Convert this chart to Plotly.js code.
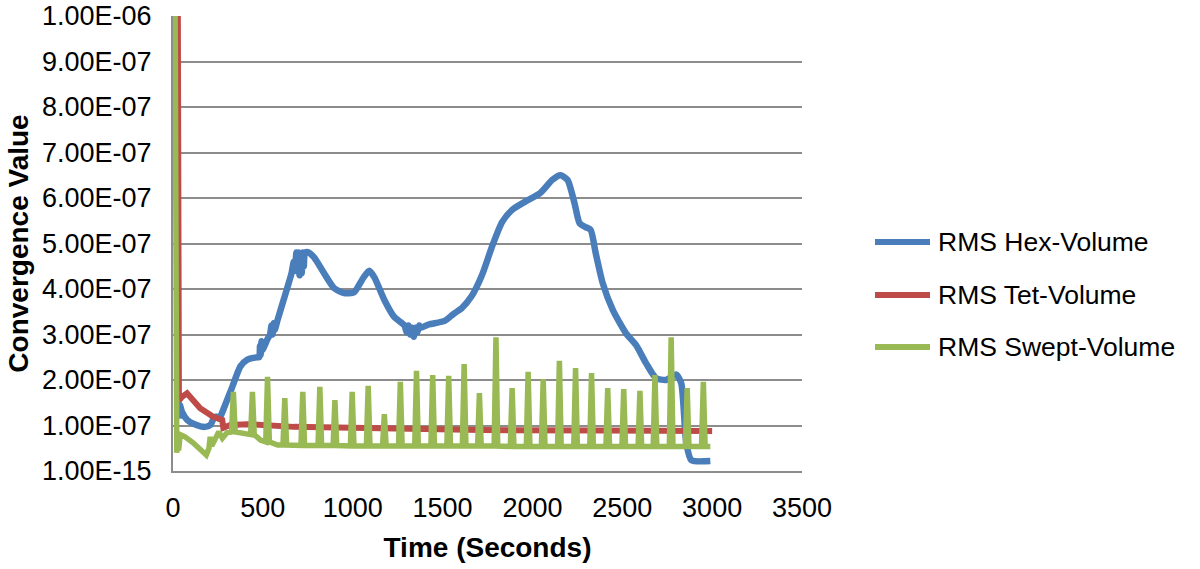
<!DOCTYPE html>
<html>
<head>
<meta charset="utf-8">
<script src="https://cdn.plot.ly/plotly-3.0.1.min.js"></script>
<style>html,body{margin:0;padding:0;background:#fff;}#chart{width:1200px;height:569px;}</style>
</head>
<body>
<div id="chart"></div>
<script>
// Values in units of 1e-7
var UNIT = 1e-7;

var hexTime = [33, 38, 50, 80, 120, 179, 210, 225, 240, 255, 270, 290, 330, 375, 414, 470, 480, 484, 488, 492, 496, 526, 540, 548, 554, 560, 566, 582, 627, 660, 672, 680, 686, 692, 698, 704, 710, 716, 722, 728, 734, 750, 784, 840, 896, 952, 1008, 1058, 1092, 1120, 1176, 1232, 1288, 1300, 1310, 1320, 1330, 1340, 1350, 1360, 1370, 1380, 1422, 1512, 1560, 1607, 1663, 1719, 1775, 1831, 1887, 1960, 2044, 2111, 2156, 2195, 2234, 2262, 2296, 2324, 2352, 2391, 2447, 2520, 2576, 2632, 2688, 2744, 2800, 2828, 2856, 2884, 2990];
var hexValue = [1.15, 1.45, 1.3, 1.12, 1.03, 0.97, 1.02, 1.15, 1.2, 1.15, 1.25, 1.45, 1.85, 2.3, 2.45, 2.5, 2.5, 2.75, 2.55, 2.85, 2.65, 2.9, 3.0, 3.2, 3.0, 3.25, 3.1, 3.32, 3.91, 4.35, 4.6, 4.4, 4.8, 4.45, 4.8, 4.3, 4.75, 4.35, 4.8, 4.5, 4.8, 4.81, 4.7, 4.35, 4.02, 3.91, 3.93, 4.24, 4.4, 4.26, 3.76, 3.38, 3.2, 3.05, 3.2, 3.0, 3.15, 2.95, 3.15, 3.05, 3.2, 3.15, 3.22, 3.3, 3.45, 3.58, 3.85, 4.3, 4.93, 5.47, 5.74, 5.92, 6.11, 6.4, 6.5, 6.4, 5.89, 5.45, 5.36, 5.3, 4.79, 4.13, 3.54, 3.03, 2.77, 2.37, 2.04, 2.0, 2.12, 1.93, 0.62, 0.24, 0.22];

var tetTime = [27, 33, 50, 78, 151, 224, 274, 280, 319, 414, 672, 1200, 1719, 2400, 3000];
var tetValue = [10.0, 1.55, 1.63, 1.71, 1.38, 1.19, 1.12, 0.95, 1.01, 1.03, 0.97, 0.93, 0.90, 0.89, 0.88];

var sweptTime = [12, 14, 17, 21, 25, 31, 40, 67, 112, 165, 185, 200, 207, 215, 235, 255, 275, 300,
  326, 336, 346, 400, 432, 442, 452, 487, 516, 526, 536, 582, 612, 622, 632,
  712, 722, 732, 807, 817, 827, 891, 901, 911, 987, 997, 1007, 1076, 1086, 1096,
  1166, 1176, 1186, 1255, 1265, 1275, 1345, 1355, 1365, 1435, 1445, 1455,
  1524, 1534, 1544, 1610, 1620, 1630, 1695, 1705, 1715, 1787, 1797, 1807,
  1877, 1887, 1897, 1966, 1976, 1986, 2050, 2060, 2070, 2140, 2150, 2160,
  2230, 2240, 2250, 2319, 2329, 2339, 2409, 2419, 2429, 2498, 2508, 2518,
  2588, 2598, 2608, 2672, 2682, 2692, 2762, 2772, 2782, 2851, 2861, 2871,
  2941, 2951, 2961, 2990];
var sweptValue = [10.0, 0.5, 0.9, 0.4, 0.85, 0.45, 0.8, 0.75, 0.62, 0.42, 0.35, 0.5, 0.75, 0.55, 0.7, 0.86, 0.72, 0.84,
  0.86, 1.74, 0.86, 0.84, 0.80, 1.74, 0.80, 0.68, 0.64, 2.07, 0.64, 0.57, 0.57, 1.60, 0.57,
  0.56, 1.74, 0.56, 0.56, 1.85, 0.56, 0.56, 1.56, 0.56, 0.55, 1.74, 0.55, 0.55, 1.87, 0.55,
  0.55, 1.25, 0.55, 0.55, 1.96, 0.55, 0.55, 2.20, 0.55, 0.55, 2.11, 0.55,
  0.55, 2.09, 0.55, 0.55, 2.35, 0.55, 0.55, 1.71, 0.55, 0.55, 2.94, 0.55,
  0.54, 1.82, 0.54, 0.54, 2.18, 0.54, 0.54, 2.02, 0.54, 0.54, 2.42, 0.54,
  0.54, 2.26, 0.54, 0.54, 2.15, 0.54, 0.54, 1.82, 0.54, 0.54, 1.80, 0.54,
  0.54, 1.76, 0.54, 0.54, 2.11, 0.54, 0.54, 2.94, 0.54, 0.54, 1.82, 0.54,
  0.54, 1.96, 0.54, 0.54];

var seriesNames = ["RMS Hex-Volume", "RMS Tet-Volume", "RMS Swept-Volume"];
var seriesColors = ["#4A7EBB", "#BE4B48", "#98B954"];

var yTickVals = [0, 1, 2, 3, 4, 5, 6, 7, 8, 9, 10];
var yTickText = ["1.00E-15", "1.00E-07", "2.00E-07", "3.00E-07", "4.00E-07", "5.00E-07", "6.00E-07", "7.00E-07", "8.00E-07", "9.00E-07", "1.00E-06"];
var xTickVals = [0, 500, 1000, 1500, 2000, 2500, 3000, 3500];

function scale(a) { return a.map(function (v) { return v * UNIT; }); }

var FONT = "Liberation Sans, Arial, Helvetica, sans-serif";
var W = 1200, H = 569, ML = 173, MR = 398, MT = 16, MB = 98;
var PW = W - ML - MR, PH = H - MT - MB;
function px2x(p) { return (p - ML) / PW; }
function py2y(p) { return (H - MB - p) / PH; }

var traces = [
  { x: hexTime, y: scale(hexValue), name: seriesNames[0], mode: "lines", showlegend: false,
    line: { color: seriesColors[0], width: 6.5, shape: "spline", smoothing: 0.6 } },
  { x: tetTime, y: scale(tetValue), name: seriesNames[1], mode: "lines", showlegend: false,
    line: { color: seriesColors[1], width: 6 } },
  { x: sweptTime, y: scale(sweptValue), name: seriesNames[2], mode: "lines", showlegend: false,
    line: { color: seriesColors[2], width: 5.5 } }
];

// manual legend (line + label)
var legendY = [242, 295, 347];
var shapes = [], annotations = [];
for (var i = 0; i < seriesNames.length; i++) {
  shapes.push({ type: "line", xref: "paper", yref: "paper",
    x0: px2x(875), x1: px2x(930), y0: py2y(legendY[i]), y1: py2y(legendY[i]),
    line: { color: seriesColors[i], width: 6 } });
  annotations.push({ xref: "paper", yref: "paper", x: px2x(936), y: py2y(legendY[i]),
    xanchor: "left", yanchor: "middle", showarrow: false, text: seriesNames[i],
    font: { family: FONT, size: 26.5, color: "#000" } });
}

var layout = {
  width: W, height: H,
  margin: { l: ML, r: MR, t: MT, b: MB },
  paper_bgcolor: "#fff", plot_bgcolor: "#fff",
  font: { family: FONT, color: "#000", size: 27 },
  showlegend: false,
  shapes: shapes, annotations: annotations,
  xaxis: {
    range: [0, 3500], tickvals: xTickVals, ticktext: xTickVals.map(String),
    showgrid: false, zeroline: false, showline: true, linecolor: "#8C8C8C", linewidth: 2,
    ticks: "", ticklabelstandoff: 12,
    tickfont: { family: FONT, size: 27, color: "#000" },
    title: { text: "Time (Seconds)", font: { family: FONT, size: 28, color: "#000", weight: "bold" }, standoff: 15 }
  },
  yaxis: {
    range: [0, 1e-6], tickvals: scale(yTickVals), ticktext: yTickText,
    showgrid: true, gridcolor: "#8C8C8C", gridwidth: 2,
    zeroline: false, showline: true, linecolor: "#8C8C8C", linewidth: 2,
    ticks: "", ticklabelstandoff: 14,
    tickfont: { family: FONT, size: 27, color: "#000" },
    title: { text: "Convergence Value", font: { family: FONT, size: 28, color: "#000", weight: "bold" }, standoff: 5 }
  }
};

Plotly.newPlot("chart", traces, layout, { displayModeBar: false, staticPlot: true });
</script>
</body>
</html>
